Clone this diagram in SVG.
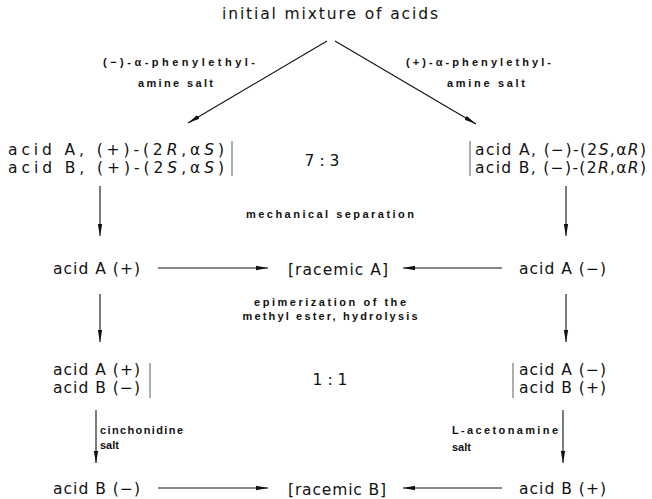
<svg xmlns="http://www.w3.org/2000/svg" width="652" height="499" viewBox="0 0 652 499">
<defs>
<marker id="ah" viewBox="0 0 12 6" refX="12" refY="3" markerWidth="12" markerHeight="6" markerUnits="userSpaceOnUse" orient="auto">
<path d="M0,0.8 L12,3 L0,5.2 Z" fill="#111"/>
</marker>
<style>
text{font-family:"DejaVu Sans","Liberation Sans",sans-serif;fill:#111}
.m{font-size:15.5px}
.s{font-family:"Liberation Sans","DejaVu Sans",sans-serif;font-size:11px;font-weight:bold}
.c{text-anchor:middle}
.i{font-style:italic}
.ln{stroke:#111;stroke-width:1.1;fill:none}
.bar{stroke:#333;stroke-width:0.8;fill:none}
</style>
</defs>
<rect width="652" height="499" fill="#fff"/>

<g id="connectors">
<line class="ln" x1="327" y1="41" x2="188" y2="123" marker-end="url(#ah)"/>
<line class="ln" x1="335" y1="41" x2="476" y2="124" marker-end="url(#ah)"/>
<line class="ln" x1="100" y1="186" x2="100" y2="236" marker-end="url(#ah)"/>
<line class="ln" x1="566" y1="186" x2="566" y2="236" marker-end="url(#ah)"/>
<line class="ln" x1="158" y1="268" x2="268" y2="268" marker-end="url(#ah)"/>
<line class="ln" x1="502" y1="268" x2="403" y2="268" marker-end="url(#ah)"/>
<line class="ln" x1="100" y1="294" x2="100" y2="342" marker-end="url(#ah)"/>
<line class="ln" x1="566" y1="294" x2="566" y2="342" marker-end="url(#ah)"/>
<line class="ln" x1="96" y1="410" x2="96" y2="463" marker-end="url(#ah)"/>
<line class="ln" x1="563" y1="410" x2="563" y2="463" marker-end="url(#ah)"/>
<line class="ln" x1="158" y1="488" x2="268" y2="488" marker-end="url(#ah)"/>
<line class="ln" x1="502" y1="488" x2="403" y2="488" marker-end="url(#ah)"/>
</g>

<g id="title">
<text class="m c" x="330" y="19" textLength="216" lengthAdjust="spacing">initial mixture of acids</text>
</g>

<g id="label-left-salt">
<text class="s" x="103" y="66" textLength="152" lengthAdjust="spacing">(−)-α-phenylethyl-</text>
<text class="s" x="138" y="87" textLength="75" lengthAdjust="spacing">amine salt</text>
</g>
<g id="label-right-salt">
<text class="s" x="406" y="66" textLength="145" lengthAdjust="spacing">(+)-α-phenylethyl-</text>
<text class="s" x="447" y="87" textLength="78" lengthAdjust="spacing">amine salt</text>
</g>

<g id="left-salts">
<text class="m" x="8" y="155" textLength="216" lengthAdjust="spacing">acid A, (+)-(2<tspan class="i">R</tspan>,α<tspan class="i">S</tspan>)</text>
<text class="m" x="8" y="173" textLength="216" lengthAdjust="spacing">acid B, (+)-(2<tspan class="i">S</tspan>,α<tspan class="i">S</tspan>)</text>
<line class="bar" x1="232" y1="141" x2="232" y2="176"/>
</g>
<g id="ratio-73">
<text class="m c" x="322" y="166">7 : 3</text>
</g>
<g id="right-salts">
<line class="bar" x1="470" y1="141" x2="470" y2="176"/>
<text class="m" x="475" y="155" textLength="171" lengthAdjust="spacing">acid A, (−)-(2<tspan class="i">S</tspan>,α<tspan class="i">R</tspan>)</text>
<text class="m" x="475" y="173" textLength="171" lengthAdjust="spacing">acid B, (−)-(2<tspan class="i">R</tspan>,α<tspan class="i">R</tspan>)</text>
</g>

<g id="label-mech">
<text class="s c" x="330" y="218" textLength="168" lengthAdjust="spacing">mechanical separation</text>
</g>

<g id="acidA-plus">
<text class="m" x="53" y="274" textLength="87" lengthAdjust="spacing">acid A (+)</text>
</g>
<g id="racemic-A">
<text class="m" x="288" y="275" textLength="100" lengthAdjust="spacing">[racemic A]</text>
</g>
<g id="acidA-minus">
<text class="m" x="519" y="274" textLength="87" lengthAdjust="spacing">acid A (−)</text>
</g>

<g id="label-epim">
<text class="s c" x="330" y="306" textLength="152" lengthAdjust="spacing">epimerization of the</text>
<text class="s c" x="330" y="320" textLength="175" lengthAdjust="spacing">methyl ester, hydrolysis</text>
</g>

<g id="left-mix">
<text class="m" x="53" y="375" textLength="87" lengthAdjust="spacing">acid A (+)</text>
<text class="m" x="53" y="393" textLength="87" lengthAdjust="spacing">acid B (−)</text>
<line class="bar" x1="150" y1="363" x2="150" y2="398"/>
</g>
<g id="ratio-11">
<text class="m c" x="330" y="385">1 : 1</text>
</g>
<g id="right-mix">
<line class="bar" x1="513" y1="363" x2="513" y2="398"/>
<text class="m" x="519" y="375" textLength="87" lengthAdjust="spacing">acid A (−)</text>
<text class="m" x="519" y="393" textLength="87" lengthAdjust="spacing">acid B (+)</text>
</g>

<g id="label-cinch">
<text class="s" x="100" y="434" textLength="83" lengthAdjust="spacing">cinchonidine</text>
<text class="s" x="100" y="449">salt</text>
</g>
<g id="label-acet">
<text class="s" x="452" y="434" textLength="106" lengthAdjust="spacing">L-acetonamine</text>
<text class="s" x="452" y="451">salt</text>
</g>

<g id="acidB-minus">
<text class="m" x="53" y="494" textLength="87" lengthAdjust="spacing">acid B (−)</text>
</g>
<g id="racemic-B">
<text class="m" x="288" y="495" textLength="98" lengthAdjust="spacing">[racemic B]</text>
</g>
<g id="acidB-plus">
<text class="m" x="519" y="494" textLength="87" lengthAdjust="spacing">acid B (+)</text>
</g>
</svg>
